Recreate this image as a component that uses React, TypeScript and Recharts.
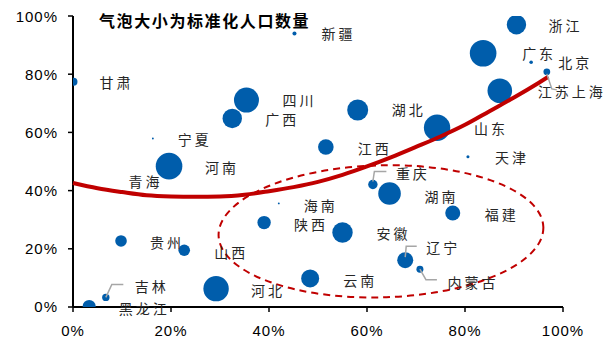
import React from 'react'
import { ScatterChart, Scatter, XAxis, YAxis, ZAxis, ReferenceArea } from 'recharts'

// provinces, x/y shares (%), standardized population (bubble size)
const provinces = ['新疆', '甘肃', '四川', '广西', '宁夏', '河南', '青海', '浙江', '广东', '北京', '上海', '江苏', '湖北', '山东', '江西', '天津', '重庆', '湖南', '福建', '海南', '陕西', '安徽', '辽宁', '内蒙古', '云南', '贵州', '山西', '河北', '吉林', '黑龙江']
const xShare = [45.2, 0.1, 35.4, 32.5, 16.3, 19.6, 14.8, 90.5, 83.7, 93.5, 96.7, 87.1, 58.1, 74.3, 51.6, 80.6, 61.2, 64.6, 77.5, 42.0, 39.0, 55.0, 67.8, 70.8, 48.4, 9.8, 22.7, 29.2, 6.7, 3.3]
const yShare = [94.0, 77.4, 71.1, 64.8, 57.9, 48.4, 43.3, 97.0, 87.2, 84.1, 80.8, 74.3, 67.7, 61.6, 55.0, 51.6, 42.1, 39.0, 32.3, 35.6, 29.0, 25.6, 16.1, 13.0, 9.8, 22.7, 19.5, 6.3, 3.3, 0.2]
const popSize = [0.023, 0.09, 0.883, 0.532, 0.005, 1.0, 0, 0.532, 1.0, 0.018, 0.065, 0.855, 0.623, 0.985, 0.344, 0.013, 0.125, 0.722, 0.318, 0.005, 0.254, 0.588, 0.362, 0.069, 0.458, 0.19, 0.19, 0.912, 0.077, 0.239]

// red trend curve
const trendX = [0, 5, 10, 15, 20, 25, 30, 35, 40, 45, 50, 55, 60, 65, 70, 75, 80, 85, 90, 95, 97]
const trendY = [42.6, 40.8, 39.5, 38.4, 38.0, 37.9, 38.0, 38.6, 39.8, 41.2, 43.0, 45.4, 48.3, 51.5, 55.0, 58.6, 62.6, 67.3, 72.0, 77.0, 79.1]

const ticks = [0, 20, 40, 60, 80, 100]

// label placement relative to bubble centre (px)
const labelPos: Record<string, { dx: number; dy: number; text?: string; leader?: number[][] }> = {
  新疆: { dx: 44, dy: 0 },
  甘肃: { dx: 43, dy: 0 },
  四川: { dx: 53, dy: 0 },
  广西: { dx: 50, dy: 1 },
  宁夏: { dx: 42, dy: 0 },
  河南: { dx: 53, dy: 1 },
  青海: { dx: 0, dy: 0 },
  浙江: { dx: 49, dy: 0 },
  广东: { dx: 56, dy: 0 },
  北京: { dx: 44, dy: 0 },
  上海: { dx: 25, dy: 19, text: '江苏上海', leader: [[0, 2], [5, 17], [10, 18]] },
  湖北: { dx: 51, dy: -1 },
  山东: { dx: 54, dy: 0 },
  江西: { dx: 49, dy: 1 },
  天津: { dx: 44, dy: 0 },
  重庆: { dx: 40, dy: -11, leader: [[0, -3], [1.5, -13], [13.5, -13]] },
  湖南: { dx: 52, dy: 2 },
  福建: { dx: 49, dy: 1 },
  海南: { dx: 42, dy: 2 },
  陕西: { dx: 47, dy: 1 },
  安徽: { dx: 51, dy: 0 },
  辽宁: { dx: 38, dy: -13, leader: [[0, -3], [1, -14], [11.5, -14]] },
  内蒙古: { dx: 53, dy: 13, leader: [[0, 0], [6, 10.5], [17, 10.5]] },
  云南: { dx: 50, dy: 2 },
  贵州: { dx: 46, dy: 1 },
  山西: { dx: 47, dy: 2 },
  河北: { dx: 52, dy: 1 },
  吉林: { dx: 46, dy: -11, leader: [[0, 0], [6, -13], [17.5, -13]] },
  黑龙江: { dx: 55, dy: 2 },
}

const points = provinces.map((name, i) => ({ name, x: xShare[i], y: yShare[i], z: popSize[i] }))
const trend = trendX.map((x, i) => ({ x, y: trendY[i] }))

const BLUE = '#005DAB'
const RED = '#C00000'
const tickFont = { fontFamily: 'Liberation Sans, Arial', fontSize: 15, fill: '#000', letterSpacing: 1 }

const Bubble = (props: any) => {
  const { cx, cy, width } = props
  const r = width / 2
  if (!r || r <= 0) return <g />
  return <circle cx={cx} cy={cy} r={r} fill={BLUE} clipPath="url(#plotClip)" />
}

const Label = (props: any) => {
  const { cx, cy, payload } = props
  const p = labelPos[payload.name]
  if (!p) return <g />
  return (
    <g>
      {p.leader && (
        <polyline
          points={p.leader.map(([a, b]) => `${cx + a},${cy + b}`).join(' ')}
          fill="none"
          stroke="#A6A6A6"
          strokeWidth={1.5}
        />
      )}
      <text
        x={cx + p.dx}
        y={cy + p.dy}
        textAnchor="middle"
        dominantBaseline="central"
        fontFamily="Noto Sans CJK SC"
        fontSize={14}
        letterSpacing={3}
        fill="#262626"
      >
        {p.text || payload.name}
      </text>
    </g>
  )
}

const App = () => {
  return (
    <div style={{ position: 'relative', width: 608, height: 330 }}>
      <ScatterChart width={608} height={330} margin={{ top: 8, right: 53, bottom: 1, left: 5 }}>
        <XAxis
          type="number"
          dataKey="x"
          domain={[0, 100]}
          ticks={ticks}
          tickFormatter={(v) => `${v}%`}
          axisLine={{ stroke: '#000', strokeWidth: 2 }}
          tickLine={{ stroke: '#000', strokeWidth: 1.5 }}
          tickSize={5}
          tickMargin={13}
          tick={tickFont}
          height={30}
        />
        <YAxis
          type="number"
          dataKey="y"
          domain={[0, 100]}
          ticks={ticks}
          tickFormatter={(v) => `${v}%`}
          axisLine={{ stroke: '#000', strokeWidth: 2 }}
          tickLine={{ stroke: '#000', strokeWidth: 1.5 }}
          tickSize={5}
          tickMargin={10}
          tick={tickFont}
          width={60}
        />
        <ZAxis type="number" dataKey="z" domain={[0, 1]} range={[0, 556]} />
        <ReferenceArea
          x1={0}
          x2={100}
          y1={0}
          y2={100}
          ifOverflow="visible"
          shape={(p: any) => (
            <defs>
              <clipPath id="plotClip">
                <rect x={p.x} y={p.y} width={p.width} height={p.height} />
              </clipPath>
            </defs>
          )}
        />
        <Scatter data={points} shape={Bubble} isAnimationActive={false} />
        <ReferenceArea
          x1={29.7}
          x2={96}
          y1={3.3}
          y2={48.7}
          ifOverflow="visible"
          shape={(p: any) => (
            <ellipse
              cx={p.x + p.width / 2}
              cy={p.y + p.height / 2}
              rx={p.width / 2}
              ry={p.height / 2}
              fill="none"
              stroke={RED}
              strokeWidth={2}
              strokeDasharray="7 5"
              transform={`rotate(-1.5 ${p.x + p.width / 2} ${p.y + p.height / 2})`}
            />
          )}
        />
        <Scatter
          data={trend}
          line={{ stroke: RED, strokeWidth: 4 }}
          lineJointType="monotoneX"
          shape={() => <g />}
          isAnimationActive={false}
        />
        <Scatter data={points} shape={Label} isAnimationActive={false} />
      </ScatterChart>
      <div
        style={{
          position: 'absolute',
          left: 91,
          top: 4,
          fontFamily: 'Noto Sans CJK SC',
          fontWeight: 700,
          fontSize: 16,
          lineHeight: '17px',
          letterSpacing: 1.6,
          color: '#000',
          whiteSpace: 'nowrap',
        }}
      >
        气泡大小为标准化人口数量
      </div>
    </div>
  )
}

export default App
